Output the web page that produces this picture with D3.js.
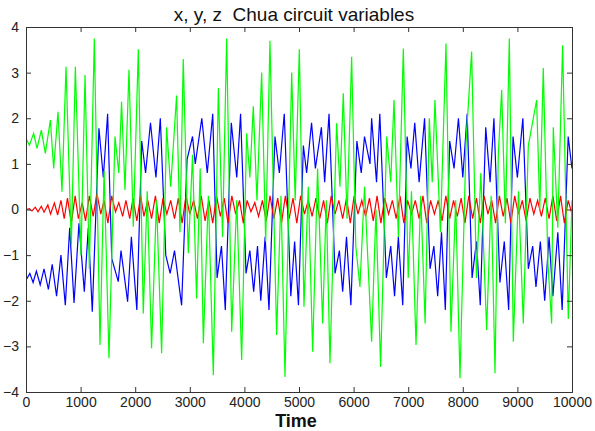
<!DOCTYPE html>
<html>
<head>
<meta charset="utf-8">
<script src="https://cdn.jsdelivr.net/npm/d3@7"></script>
<style>
body { margin: 0; background: #fff; }
text { font-family: "Liberation Sans", Arial, sans-serif; }
</style>
</head>
<body>
<div id="chart"></div>
<script>
// tick values
const xTicks = [0, 1000, 2000, 3000, 4000, 5000, 6000, 7000, 8000, 9000, 10000];
const yTicks = [-4, -3, -2, -1, 0, 1, 2, 3, 4];

// x (blue) - turning points [time, value]
const xSeries = [[0,-1.55],[70,-1.4],[130,-1.6],[190,-1.35],[260,-1.65],[330,-1.3],[410,-1.75],[480,-1.2],[560,-1.9],[640,-1.0],[720,-2.1],[800,-0.4],[880,-2.05],[970,-0.3],[1068,-1.8],[1141,-0.4],[1214,-2.24],[1336,1.78],[1416,0.7],[1495,2.1],[1570,-1.07],[1690,-1.58],[1740,-0.9],[1861,-2.02],[1930,-0.6],[2030,-2.2],[2120,1.5],[2190,0.8],[2280,1.9],[2380,0.7],[2460,2.0],[2560,-1.0],[2640,-1.4],[2720,-0.9],[2850,-2.1],[2950,1.1],[3050,1.6],[3100,1.0],[3220,2.0],[3320,0.8],[3420,2.1],[3500,-1.5],[3580,-0.8],[3650,-2.2],[3760,1.9],[3860,0.7],[3930,2.1],[4030,-1.4],[4100,-0.9],[4170,-1.8],[4240,-0.8],[4300,-2.0],[4380,-0.6],[4450,-2.2],[4560,1.6],[4640,0.8],[4730,2.1],[4850,-1.9],[4920,-0.7],[4990,-2.1],[5080,1.4],[5140,0.8],[5230,1.9],[5300,0.9],[5410,1.8],[5470,0.6],[5550,2.1],[5660,-1.4],[5740,-0.9],[5800,-1.8],[5870,-0.6],[5950,-2.1],[6060,1.5],[6140,0.8],[6200,1.6],[6300,1.0],[6330,2.0],[6420,0.6],[6480,2.1],[6600,-1.5],[6680,-0.8],[6750,-1.9],[6820,-0.6],[6900,-2.1],[6980,1.6],[7050,0.9],[7120,1.9],[7200,0.6],[7300,2.0],[7400,-1.3],[7470,-0.8],[7540,-1.9],[7610,-0.5],[7680,-2.2],[7760,1.5],[7840,0.9],[7920,2.0],[8000,0.7],[8080,2.1],[8170,-1.5],[8250,-0.7],[8320,-2.1],[8420,1.8],[8500,0.6],[8570,2.0],[8680,-1.6],[8760,-0.7],[8840,-2.2],[8920,1.6],[9000,0.7],[9100,2.0],[9200,-1.3],[9280,-0.8],[9340,-1.7],[9420,-0.7],[9500,-2.0],[9580,-0.6],[9650,-1.9],[9740,-0.5],[9820,-2.2],[9930,1.6],[10000,0.9]];

// y (red)
const ySeries = [[0,0],[60,0.02],[110,-0.03],[170,0.05],[220,-0.05],[280,0.07],[330,-0.06],[400,0.1],[450,-0.1],[520,0.14],[580,-0.12],[640,0.2],[700,-0.2],[760,0.25],[830,-0.3],[900,0.3],[960,-0.2],[1030,0.15],[1090,-0.25],[1160,0.3],[1230,-0.15],[1300,0.35],[1370,-0.1],[1430,0.2],[1500,-0.3],[1570,0.3],[1640,-0.05],[1700,0.15],[1770,-0.15],[1830,0.2],[1900,-0.2],[1960,0.25],[2030,-0.25],[2100,0.3],[2160,-0.15],[2230,0.2],[2300,-0.2],[2370,0.3],[2440,-0.3],[2510,0.25],[2580,-0.1],[2650,0.2],[2720,-0.2],[2790,0.25],[2860,-0.3],[2930,0.3],[3000,-0.1],[3070,0.2],[3140,-0.2],[3210,0.3],[3280,-0.25],[3350,0.2],[3420,-0.3],[3490,0.3],[3560,-0.15],[3630,0.25],[3700,-0.3],[3770,0.3],[3840,-0.1],[3910,0.2],[3980,-0.3],[4050,0.2],[4120,-0.05],[4190,0.15],[4260,-0.15],[4330,0.2],[4400,-0.25],[4470,0.3],[4540,-0.2],[4610,0.25],[4680,-0.3],[4750,0.3],[4820,-0.2],[4890,0.25],[4960,-0.3],[5030,0.3],[5100,-0.1],[5170,0.2],[5240,-0.15],[5310,0.25],[5380,-0.2],[5450,0.2],[5520,-0.3],[5590,0.3],[5660,-0.1],[5730,0.2],[5800,-0.2],[5870,0.25],[5940,-0.3],[6010,0.3],[6080,-0.1],[6150,0.2],[6220,-0.15],[6290,0.25],[6360,-0.25],[6430,0.3],[6500,-0.3],[6570,0.25],[6640,-0.1],[6710,0.2],[6780,-0.2],[6850,0.3],[6920,-0.3],[6990,0.2],[7060,-0.1],[7130,0.2],[7200,-0.2],[7270,0.3],[7340,-0.3],[7410,0.2],[7480,-0.1],[7550,0.2],[7620,-0.25],[7690,0.3],[7760,-0.2],[7830,0.2],[7900,-0.15],[7970,0.25],[8040,-0.3],[8110,0.3],[8180,-0.2],[8250,0.25],[8320,-0.3],[8390,0.3],[8460,-0.1],[8530,0.2],[8600,-0.3],[8670,0.3],[8740,-0.15],[8810,0.25],[8880,-0.3],[8950,0.3],[9020,-0.1],[9090,0.2],[9160,-0.25],[9230,0.25],[9300,-0.1],[9370,0.2],[9440,-0.15],[9510,0.25],[9580,-0.2],[9650,0.3],[9720,-0.25],[9790,0.3],[9860,-0.3],[9930,0.2],[10000,-0.1]];

// z (green)
const zSeries = [[0,1.56],[61,1.41],[140,1.67],[201,1.34],[281,1.74],[354,1.23],[446,1.96],[507,0.9],[586,2.14],[659,0.39],[733,3.13],[830,-0.78],[904,3.13],[1007,-1.0],[1081,2.95],[1160,-1.3],[1251,3.75],[1355,-2.97],[1430,0.85],[1520,-3.26],[1630,1.6],[1700,0.8],[1750,2.36],[1813,0.43],[1886,3.06],[1965,-0.38],[2057,3.51],[2148,-2.28],[2220,0.4],[2300,-3.04],[2390,0.2],[2484,-3.15],[2575,1.8],[2650,0.5],[2758,2.5],[2820,-0.5],[2880,3.3],[2972,-0.96],[3050,1.2],[3124,-1.95],[3190,0.9],[3248,-2.93],[3340,0.3],[3431,-3.63],[3523,2.66],[3600,-0.6],[3675,3.75],[3767,-2.68],[3860,0.2],[3950,-3.3],[4041,1.67],[4100,0.7],[4163,2.26],[4230,0.2],[4316,3.0],[4390,-0.7],[4468,3.7],[4590,-2.75],[4670,0.3],[4743,-3.67],[4866,3.0],[4930,0.2],[5006,3.51],[5091,-2.13],[5170,0.5],[5250,-3.12],[5340,0.9],[5433,-2.5],[5500,0.2],[5567,-3.37],[5689,1.89],[5750,0.5],[5811,2.55],[5880,-0.2],[5964,3.35],[6040,-0.8],[6116,-1.7],[6200,0.5],[6330,-2.9],[6410,0.0],[6494,-3.45],[6606,1.6],[6680,0.6],[6740,2.4],[6820,-0.6],[6911,3.53],[7000,-1.5],[7060,0.4],[7143,-2.97],[7230,0.3],[7310,-2.5],[7387,2.0],[7440,0.6],[7490,2.4],[7590,-0.5],[7692,3.64],[7783,-2.68],[7870,0.2],[7948,-3.7],[8060,1.5],[8162,3.46],[8250,-1.5],[8330,0.8],[8437,-2.64],[8520,0.3],[8590,-3.59],[8650,1.2],[8712,2.62],[8780,-0.3],[8852,3.75],[8925,-2.9],[9020,0.4],[9108,-2.5],[9200,1.4],[9352,2.4],[9410,0.0],[9474,3.1],[9560,-1.2],[9627,-2.5],[9657,1.8],[9740,-0.4],[9828,3.6],[9932,-2.4],[10000,0.2]];

let margin = {top: 27, right: 23, bottom: 39, left: 26};
let width = 595 - margin.left - margin.right;
let height = 431 - margin.top - margin.bottom;

let svg = d3.select('#chart')
    .append('svg')
    .attr('width', 595)
    .attr('height', 431)
    .style('background', '#fff');

let g = svg.append('g').attr('transform', 'translate(' + margin.left + ',' + margin.top + ')');

// Scales
let x = d3.scaleLinear().domain([0, 10000]).range([0, width]);
let y = d3.scaleLinear().domain([-4, 4]).range([height, 0]);

let line = d3.line()
    .x(function (d) { return x(d[0]); })
    .y(function (d) { return y(d[1]); });

g.append('clipPath').attr('id', 'plotclip')
    .append('rect').attr('width', width).attr('height', height);

let plot = g.append('g').attr('clip-path', 'url(#plotclip)');

[[xSeries, '#0000ff'], [ySeries, '#ff0000'], [zSeries, '#00ff00']].forEach(function (s) {
    plot.append('path')
        .datum(s[0])
        .attr('fill', 'none')
        .attr('stroke', s[1])
        .attr('stroke-width', 1.2)
        .attr('d', line);
});

// Axes, ticks inside on all sides
let axisColor = '#333';
let bottomAxis = d3.axisBottom(x).tickValues(xTicks).tickSize(-5).tickPadding(5).tickFormat(d3.format('d'));
let topAxis = d3.axisTop(x).tickValues(xTicks).tickSize(-5).tickFormat('');
let leftAxis = d3.axisLeft(y).tickValues(yTicks).tickSize(-5).tickPadding(7);
let rightAxis = d3.axisRight(y).tickValues(yTicks).tickSize(-5).tickFormat('');

g.append('g').attr('transform', 'translate(0,' + height + ')').call(bottomAxis);
g.append('g').call(topAxis);
g.append('g').call(leftAxis);
g.append('g').attr('transform', 'translate(' + width + ',0)').call(rightAxis);

g.selectAll('.domain').attr('stroke', axisColor);
g.selectAll('.tick line').attr('stroke', axisColor);
g.selectAll('.tick text')
    .attr('fill', '#222')
    .attr('font-size', '14px')
    .attr('font-family', '"Liberation Sans", Arial, sans-serif');

// Title
svg.append('text')
    .attr('x', 294)
    .attr('y', 21)
    .attr('text-anchor', 'middle')
    .attr('font-size', '19px')
    .style('white-space', 'pre')
    .attr('fill', '#111')
    .text('x, y, z  Chua circuit variables');

// X label
svg.append('text')
    .attr('x', 296)
    .attr('y', 426.5)
    .attr('text-anchor', 'middle')
    .attr('font-size', '18px')
    .attr('font-weight', 'bold')
    .attr('fill', '#111')
    .text('Time');
</script>
</body>
</html>
